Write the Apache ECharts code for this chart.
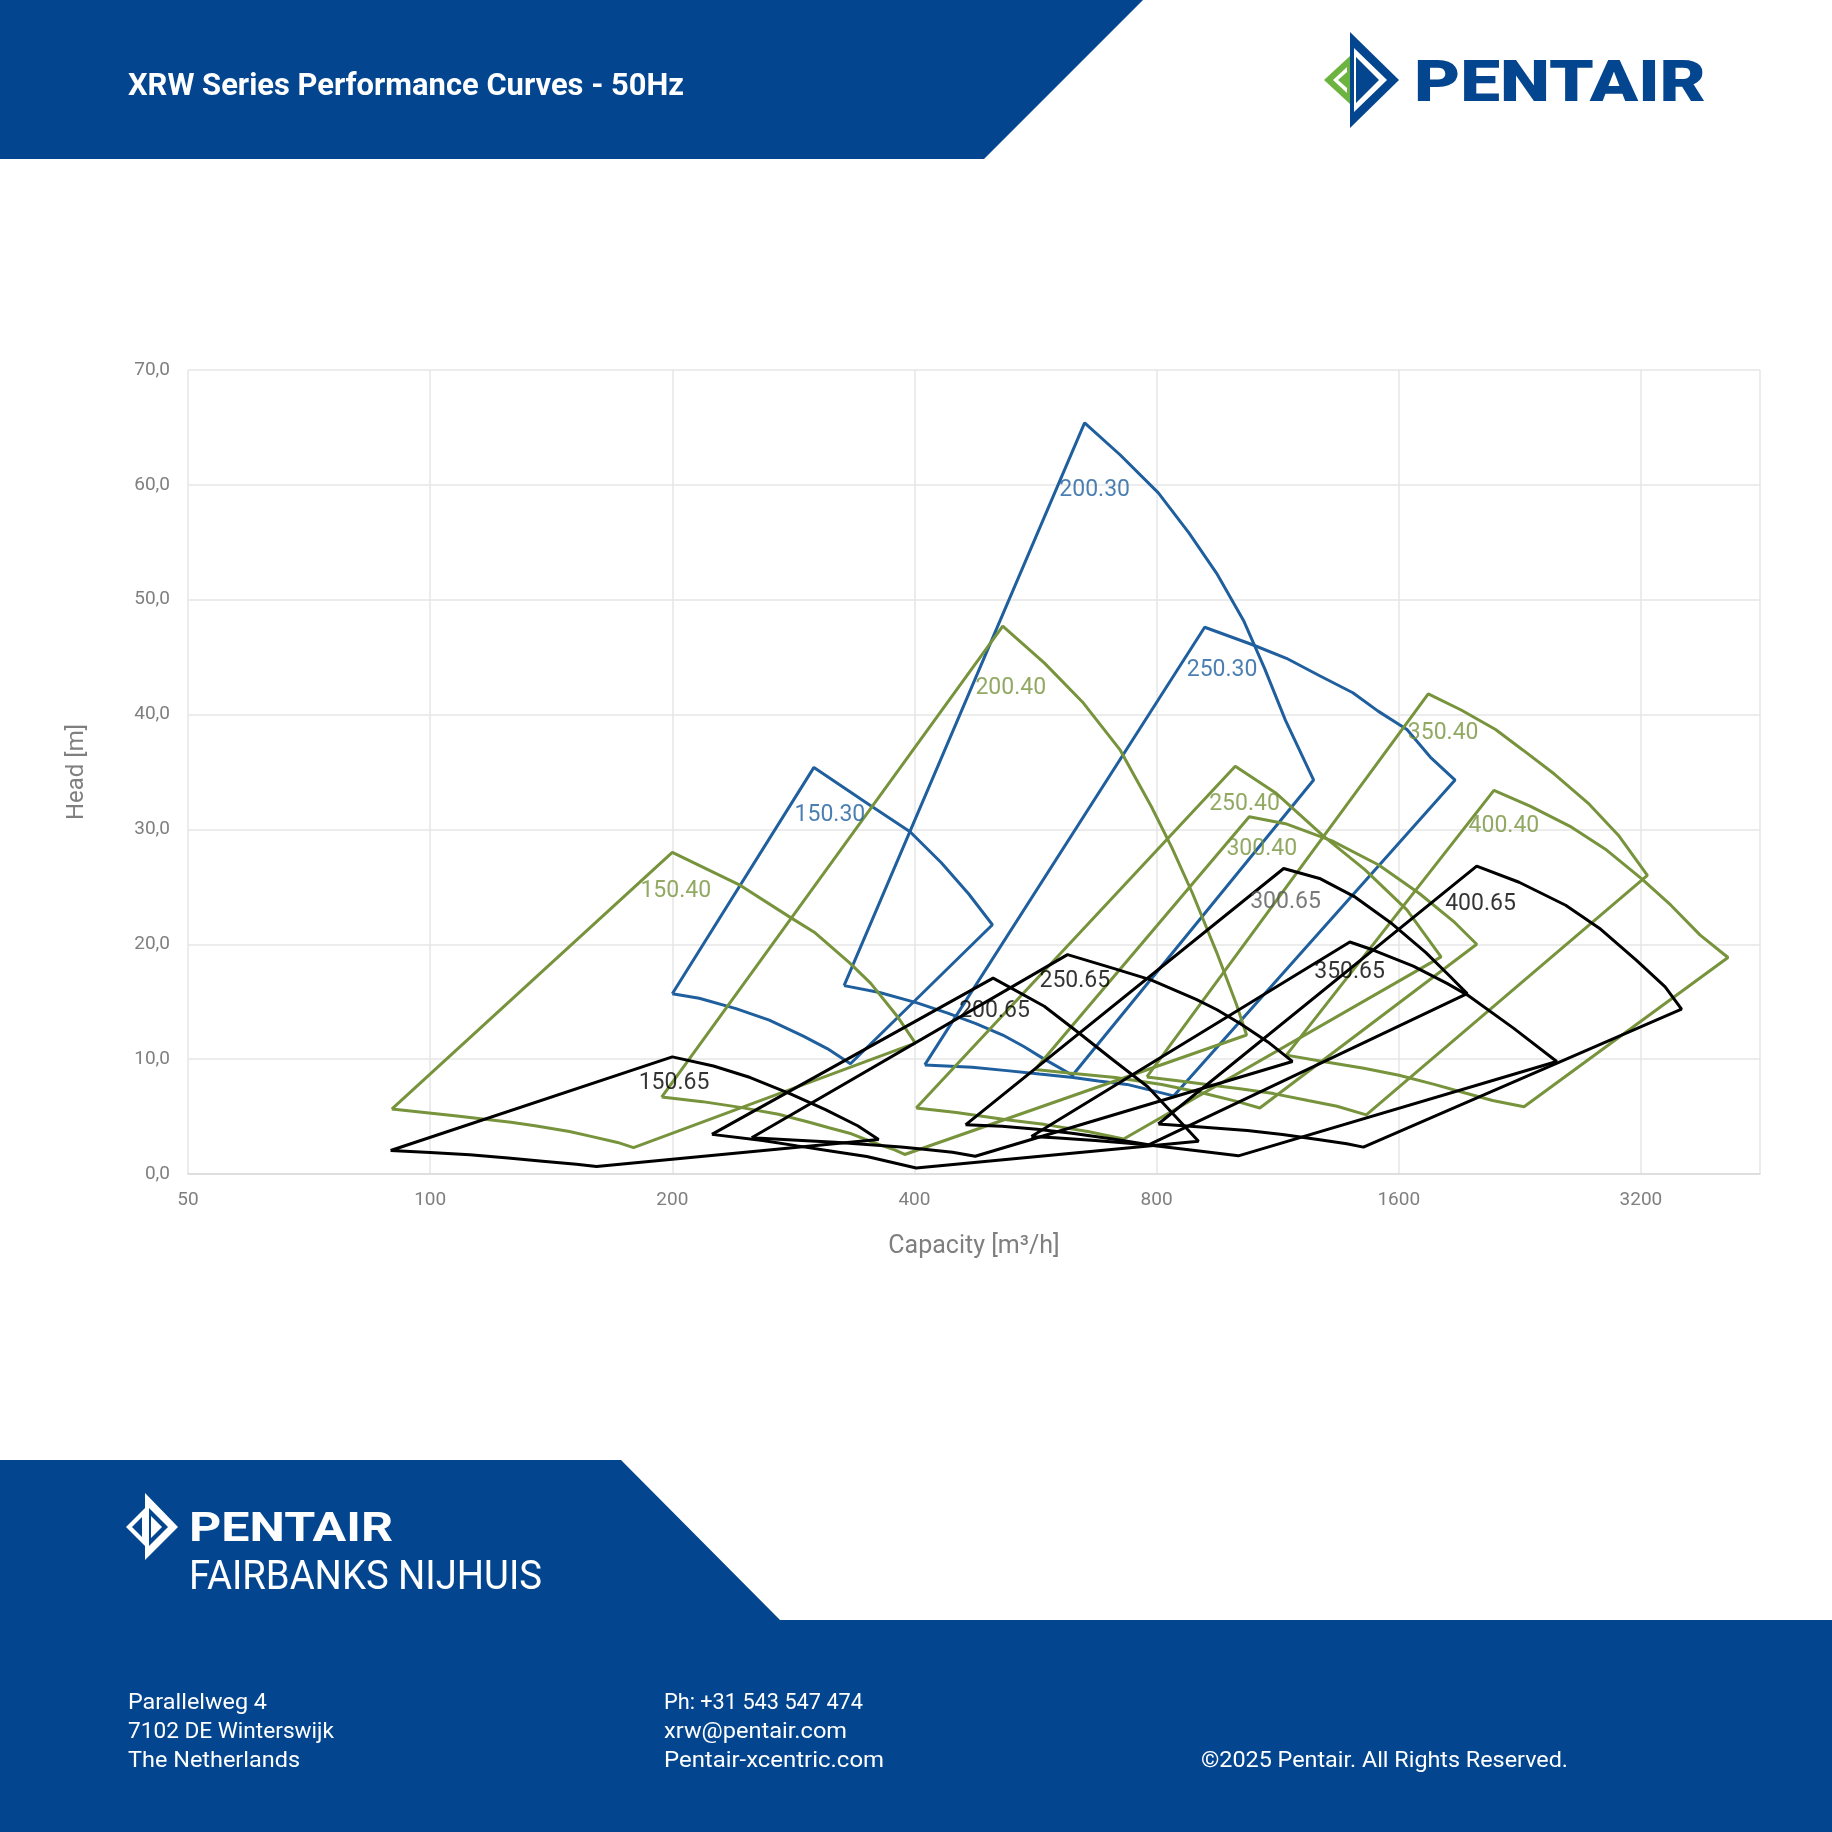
<!DOCTYPE html>
<html>
<head>
<meta charset="utf-8">
<title>XRW Series Performance Curves - 50Hz</title>
<script src="https://cdn.jsdelivr.net/npm/echarts@6/dist/echarts.min.js"></script>
<style>
html, body { margin: 0; padding: 0; background: #fff; }
#c_chart { width: 1832px; height: 1832px; }
</style>
</head>
<body>
<div id="c_chart"></div>
<script>
// capacity is plotted in units of 25 m3/h, so base-2 log ticks fall on 50, 100, 200 ...
const Q_UNIT = 25;
const Q_MIN = 50;
const Q_MAX = 4500;

// each pump: hi = max speed curve (top point -> right end), lo = min speed curve (left point -> bottom point)
// values are [m3/h, m]
const hi_150_30 = [[300,35.4],[347,32.4],[395,29.8],[432,27.1],[467,24.4],[500,21.7]];
const lo_150_30 = [[200,15.7],[216,15.3],[240,14.4],[264,13.4],[291,12.0],[312,10.9],[333,9.6]];
const hi_200_30 = [[651,65.4],[721,62.6],[804,59.3],[878,55.8],[950,52.3],[1026,48.2],[1090,44.0],[1157,39.5],[1254,34.3]];
const lo_200_30 = [[327,16.4],[362,15.8],[403,14.9],[440,14.0],[477,13.1],[515,12.1],[547,11.1],[580,10.0],[629,8.6]];
const hi_250_30 = [[918,47.6],[1051,46.1],[1160,44.9],[1274,43.4],[1403,41.9],[1508,40.3],[1638,38.7],[1751,36.3],[1880,34.3]];
const lo_250_30 = [[412,9.5],[472,9.3],[521,9.0],[572,8.7],[630,8.4],[677,8.1],[735,7.8],[786,7.3],[840,6.8]];

const hi_150_40 = [[200,28.0],[242,25.2],[281,22.3],[301,21.0],[332,18.4],[353,16.6],[382,13.6],[401,11.4]];
const lo_150_40 = [[89.6,5.65],[108,5.05],[126,4.5],[135,4.2],[149,3.7],[158,3.3],[171,2.75],[179,2.3]];
const hi_200_40 = [[515,47.7],[580,44.5],[647,41.1],[721,36.9],[788,32.0],[836,28.4],[887,24.4],[950,19.3],[1005,14.8],[1035,12.1]];
const lo_200_40 = [[194,6.7],[218,6.3],[243,5.8],[271,5.2],[296,4.5],[314,4.0],[334,3.5],[357,2.7],[378,2.1],[389,1.7]];
const hi_250_40 = [[1002,35.5],[1124,33.2],[1291,29.4],[1452,26.5],[1638,23.0],[1806,18.9]];
const lo_250_40 = [[402,5.75],[451,5.35],[518,4.75],[582,4.3],[657,3.7],[728,3.05]];
const hi_300_40 = [[1043,31.1],[1157,30.5],[1322,29.0],[1511,26.9],[1699,24.4],[1878,21.9],[2000,20.0]];
const lo_300_40 = [[565,9.1],[622,8.8],[711,8.4],[812,7.8],[913,7.05],[1009,6.3],[1075,5.75]];
const hi_350_40 = [[1741,41.8],[1913,40.4],[2111,38.7],[2284,36.9],[2500,34.8],[2760,32.2],[3000,29.5],[3260,26.0]];
const lo_350_40 = [[778,8.45],[855,8.1],[944,7.7],[1021,7.4],[1118,7.0],[1234,6.4],[1341,5.9],[1458,5.15]];
const hi_400_40 = [[2101,33.4],[2334,32.0],[2624,30.2],[2901,28.2],[3208,25.7],[3487,23.4],[3792,20.8],[4106,18.85]];
const lo_400_40 = [[1160,10.35],[1288,9.8],[1448,9.2],[1601,8.6],[1771,7.8],[1925,7.1],[2093,6.4],[2290,5.85]];

const hi_150_65 = [[200,10.2],[225,9.4],[250,8.4],[280,7.0],[310,5.6],[340,4.2],[361,3.0]];
const lo_150_65 = [[89.3,2.05],[100,1.88],[112,1.68],[125,1.4],[138,1.12],[152,0.84],[161,0.65]];
const hi_200_65 = [[501,17.05],[580,14.6],[640,12.3],[707,9.9],[780,7.6],[902,2.85]];
const lo_200_65 = [[224,3.45],[259,2.92],[286,2.45],[316,1.99],[349,1.52],[402,0.52]];
const hi_250_65 = [[620,19.1],[707,17.9],[787,16.9],[896,15.2],[951,14.3],[1016,13.1],[1100,11.5],[1180,9.8]];
const lo_250_65 = [[251,3.15],[286,2.94],[319,2.77],[363,2.49],[385,2.35],[411,2.15],[446,1.89],[476,1.55]];
const hi_300_65 = [[1151,26.6],[1279,25.7],[1413,24.1],[1562,21.9],[1728,19.3],[1847,17.3],[1946,15.7]];
const lo_300_65 = [[463,4.28],[514,4.15],[568,3.9],[628,3.54],[695,3.12],[742,2.8],[782,2.54]];
const hi_350_65 = [[1391,20.2],[1487,19.5],[1668,18.1],[1837,16.6],[1946,15.6],[2222,12.7],[2515,9.8]];
const lo_350_65 = [[559,3.27],[598,3.15],[671,2.92],[739,2.68],[782,2.52],[893,2.05],[1011,1.58]];
const hi_400_65 = [[2000,26.8],[2258,25.4],[2580,23.4],[2853,21.3],[3160,18.6],[3430,16.3],[3595,14.35]];
const lo_400_65 = [[804,4.35],[908,4.1],[1037,3.78],[1147,3.44],[1270,3.0],[1379,2.63],[1446,2.34]];

const pumpNames = ['150.30','200.30','250.30','150.40','200.40','250.40','300.40','350.40','400.40',
                   '150.65','200.65','250.65','300.65','350.65','400.65'];
const pumpHi = [hi_150_30, hi_200_30, hi_250_30, hi_150_40, hi_200_40, hi_250_40, hi_300_40, hi_350_40, hi_400_40,
                hi_150_65, hi_200_65, hi_250_65, hi_300_65, hi_350_65, hi_400_65];
const pumpLo = [lo_150_30, lo_200_30, lo_250_30, lo_150_40, lo_200_40, lo_250_40, lo_300_40, lo_350_40, lo_400_40,
                lo_150_65, lo_200_65, lo_250_65, lo_300_65, lo_350_65, lo_400_65];
// where each model name sits, [m3/h, m]
const labelAt = [[314,31.2],[670,59.5],[965,43.9],[202,24.6],[527,42.3],[1029,32.2],[1081,28.3],[1817,38.4],[2162,30.3],
                 [201,7.9],[503,14.2],[633,16.8],[1157,23.7],[1390,17.6],[2022,23.5]];

const NAVY = '#03468f';
const BLUE = '#1f5f9e';
const GREEN = '#77933c';
const BLACK = '#000000';
const GREY = '#7f7f7f';

function pumpColor(name) {
    if (/\.30$/.test(name)) return BLUE;
    if (/\.40$/.test(name)) return GREEN;
    return BLACK;
}

var dm = document.getElementById('c_chart');
var ch = echarts.init(dm, null, { renderer: 'canvas' });

var series = pumpNames.map(function (nm, i) {
    var lo = pumpLo[i];
    var ring = [lo[0]].concat(pumpHi[i], lo.slice().reverse());
    return {
        name: nm,
        type: 'line',
        data: ring.map(function (p) { return [p[0] / Q_UNIT, p[1]]; }),
        symbol: 'none',
        silent: true,
        lineStyle: { color: pumpColor(nm), width: 3 },
        itemStyle: { color: pumpColor(nm) },
        z: 2
    };
});

series.push({
    type: 'scatter',
    silent: true,
    symbol: 'circle',
    symbolSize: 1,
    itemStyle: { color: 'rgba(0,0,0,0)' },
    z: 5,
    data: pumpNames.map(function (nm, i) {
        return {
            value: [labelAt[i][0] / Q_UNIT, labelAt[i][1]],
            name: nm,
            label: { color: nm === '300.65' ? '#595959' : pumpColor(nm) }
        };
    }),
    label: {
        show: true,
        position: 'inside',
        formatter: '{b}',
        fontSize: 23,
        fontFamily: 'Roboto'
    }
});

// text in the frame is stretched to the widths it has in the original layout
var mctx = document.createElement('canvas').getContext('2d');
function fitX(text, font, width) {
    mctx.font = font;
    return width / mctx.measureText(text).width;
}
function frameText(text, x, y, size, weight, color, width) {
    var font = weight + ' ' + size + 'px Roboto';
    return {
        type: 'text', x: x, y: y, silent: true, z: 20,
        scaleX: fitX(text, font, width),
        style: { text: text, fill: color, font: font, align: 'left', verticalAlign: 'middle' }
    };
}
function poly(points, fill) {
    return { type: 'polygon', silent: true, z: 10, shape: { points: points }, style: { fill: fill } };
}

var footerLines = [
    ['Parallelweg 4', 128, 1703, 139],
    ['7102 DE Winterswijk', 128, 1732, 206],
    ['The Netherlands', 128, 1761, 172],
    ['Ph: +31 543 547 474', 664, 1703, 199],
    ['xrw@pentair.com', 664, 1732, 183],
    ['Pentair-xcentric.com', 664, 1761, 220],
    ['\u00a92025 Pentair. All Rights Reserved.', 1201, 1761, 367]
];

var graphic = [
    poly([[0, 0], [1143, 0], [984, 159], [0, 159]], NAVY),
    frameText('XRW Series Performance Curves - 50Hz', 128, 87, 31, 'bold', '#ffffff', 556),
    // header logo
    poly([[1350, 32], [1399, 80], [1350, 128]], NAVY),
    poly([[1354, 48], [1387, 80], [1354, 112]], '#ffffff'),
    poly([[1356, 57], [1379, 80], [1356, 103]], NAVY),
    poly([[1324, 80], [1350, 56], [1350, 104]], '#6db33f'),
    poly([[1333, 80], [1347, 67], [1347, 93]], '#ffffff'),
    poly([[1338, 80], [1347, 72], [1347, 88]], '#6db33f'),
    frameText('PENTAIR', 1414, 87, 57, '900', NAVY, 292),
    // footer band
    poly([[0, 1460], [621, 1460], [780, 1620], [1832, 1620], [1832, 1832], [0, 1832]], NAVY),
    poly([[145, 1493], [178, 1527], [145, 1560]], '#ffffff'),
    poly([[149, 1508], [168, 1527], [149, 1546]], NAVY),
    poly([[151, 1516], [162, 1527], [151, 1538]], '#ffffff'),
    poly([[126, 1527], [145, 1508], [145, 1546]], '#ffffff'),
    poly([[132, 1527], [142, 1517], [142, 1537]], NAVY),
    frameText('PENTAIR', 189, 1531, 41, 'bold', '#ffffff', 204),
    frameText('FAIRBANKS NIJHUIS', 189, 1579, 41, 'normal', '#ffffff', 353)
];
footerLines.forEach(function (l) {
    graphic.push(frameText(l[0], l[1], l[2], 22, 'normal', '#ffffff', l[3]));
});

var option = {
    animation: false,
    backgroundColor: '#ffffff',
    textStyle: { fontFamily: 'Roboto' },
    grid: { left: 188, right: 72, top: 370, bottom: 658, containLabel: false },
    xAxis: {
        type: 'log',
        logBase: 2,
        min: Q_MIN / Q_UNIT,
        max: Q_MAX / Q_UNIT,
        splitNumber: 6,
        name: 'Capacity [m\u00b3/h]',
        nameLocation: 'middle',
        nameGap: 60,
        nameTextStyle: { color: GREY, fontSize: 25 },
        axisLine: { lineStyle: { color: '#d9d9d9', width: 1.5 } },
        axisTick: { show: false },
        axisLabel: {
            color: GREY, fontSize: 19, margin: 17, showMaxLabel: false,
            formatter: function (v) { return String(Math.round(v * Q_UNIT)); }
        },
        splitLine: { show: true, lineStyle: { color: '#e6e6e6', width: 1.5 } }
    },
    yAxis: {
        type: 'value',
        min: 0,
        max: 70,
        interval: 10,
        name: 'Head [m]',
        nameLocation: 'middle',
        nameGap: 99,
        nameRotate: 90,
        nameTextStyle: { color: GREY, fontSize: 24 },
        axisLine: { show: false },
        axisTick: { show: false },
        axisLabel: {
            color: GREY, fontSize: 19, margin: 18,
            formatter: function (v) { return v.toFixed(1).replace('.', ','); }
        },
        splitLine: { lineStyle: { color: '#e6e6e6', width: 1.5 } }
    },
    graphic: graphic,
    series: series
};

ch.setOption(option);
window.onresize = function () {
    ch.resize();
};
</script>
</body>
</html>
